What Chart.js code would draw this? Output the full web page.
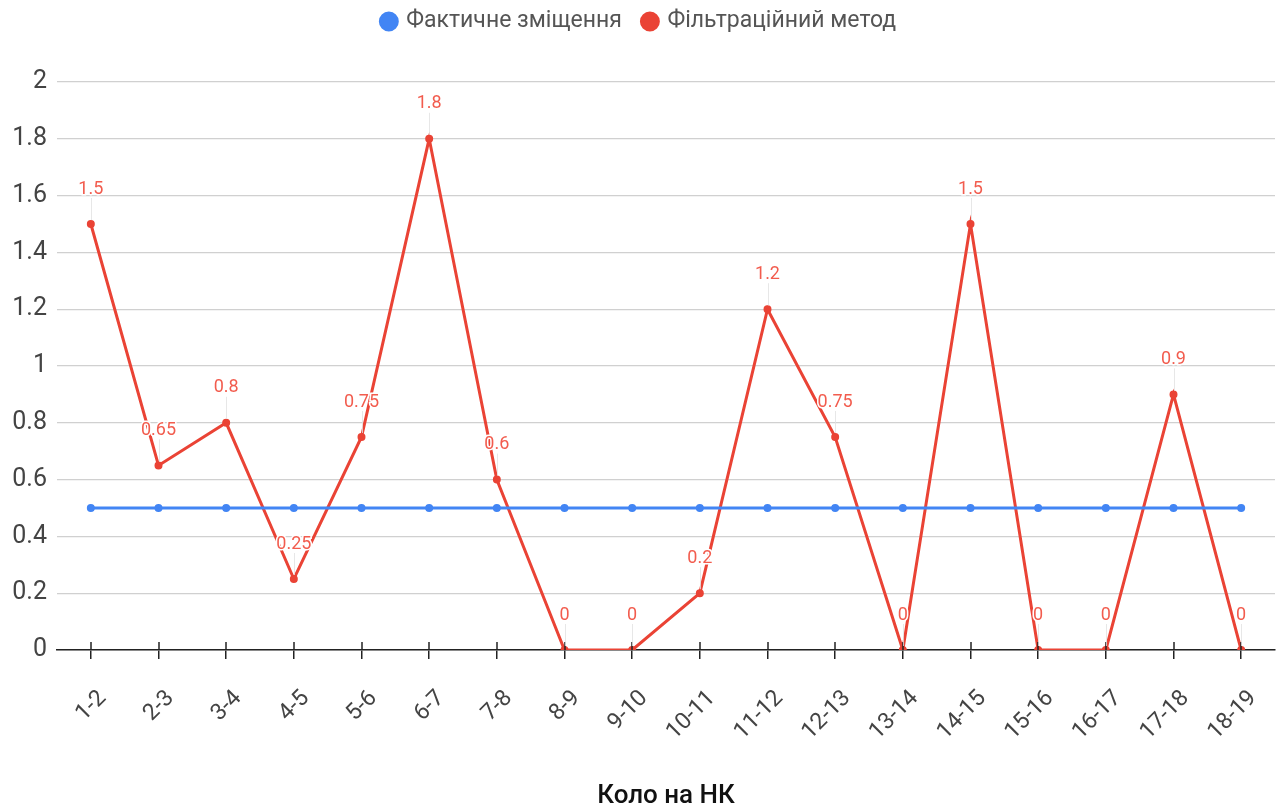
<!DOCTYPE html>
<html>
<head>
<meta charset="utf-8">
<script src="https://cdn.jsdelivr.net/npm/chart.js@4/dist/chart.umd.min.js"></script>
<style>
  html, body { margin: 0; padding: 0; background: #fff; }
  #wrap { width: 1281px; height: 812px; position: relative; }
</style>
</head>
<body>
<div id="wrap"><canvas id="c" width="1281" height="812"></canvas></div>
<script>
// Segments between rings
const categories = ['1-2','2-3','3-4','4-5','5-6','6-7','7-8','8-9','9-10','10-11','11-12','12-13','13-14','14-15','15-16','16-17','17-18','18-19'];
// Actual displacement (constant)
const actualShift = [0.5,0.5,0.5,0.5,0.5,0.5,0.5,0.5,0.5,0.5,0.5,0.5,0.5,0.5,0.5,0.5,0.5,0.5];
// Filtration method result
const filtrationMethod = [1.5,0.65,0.8,0.25,0.75,1.8,0.6,0,0,0.2,1.2,0.75,0,1.5,0,0,0.9,0];
// Y tick values that carry a label
const yLabelTicks = [0,0.2,0.4,0.6,0.8,1,1.2,1.4,1.6,1.8,2];

const BLUE = '#4285F4';
const RED = '#EA4335';

// Extra room between the legend and the plot
const legendGap = {
  id: 'legendGap',
  beforeInit(chart) {
    const origFit = chart.legend.fit;
    chart.legend.fit = function () {
      origFit.call(this);
      this.height += 39;
    };
  }
};

// Upper half of the category tick marks, crossing the zero line
const crossTicks = {
  id: 'crossTicks',
  afterDatasetsDraw(chart) {
    const ctx = chart.ctx;
    const xs = chart.scales.x;
    const y0 = chart.chartArea.bottom;
    ctx.save();
    ctx.strokeStyle = '#222';
    ctx.lineWidth = 1.5;
    categories.forEach((c, i) => {
      const x = Math.round(xs.getPixelForValue(i));
      ctx.beginPath();
      ctx.moveTo(x, y0 - 8);
      ctx.lineTo(x, y0);
      ctx.stroke();
    });
    ctx.restore();
  }
};

// Value labels with a thin leader line above each point of the red series
const valueLabels = {
  id: 'valueLabels',
  afterDatasetsDraw(chart) {
    const ctx = chart.ctx;
    const meta = chart.getDatasetMeta(1);
    const ds = chart.data.datasets[1];
    ctx.save();
    meta.data.forEach((pt, i) => {
      const x = pt.x, y = pt.y;
      const ly = y - 35;
      ctx.strokeStyle = 'rgba(225,225,225,0.8)';
      ctx.lineWidth = 1;
      ctx.beginPath();
      ctx.moveTo(Math.round(x) + 0.5, y - 4);
      ctx.lineTo(Math.round(x) + 0.5, ly + 9);
      ctx.stroke();
      ctx.font = '18px Roboto';
      ctx.fillStyle = '#F25C4E';
      ctx.textAlign = 'center';
      ctx.textBaseline = 'middle';
      ctx.lineWidth = 3;
      ctx.strokeStyle = '#ffffff';
      const t = String(ds.data[i]);
      ctx.strokeText(t, x, ly);
      ctx.fillText(t, x, ly);
    });
    ctx.restore();
  }
};

new Chart(document.getElementById('c'), {
  type: 'line',
  data: {
    labels: categories,
    datasets: [
      {
        label: 'Фактичне зміщення',
        data: actualShift,
        borderColor: BLUE,
        backgroundColor: BLUE,
        borderWidth: 3,
        pointRadius: 2.5,
        pointHoverRadius: 2.5,
        tension: 0
      },
      {
        label: 'Фільтраційний метод',
        data: filtrationMethod,
        borderColor: RED,
        backgroundColor: RED,
        borderWidth: 3,
        pointRadius: 2.5,
        pointHoverRadius: 2.5,
        tension: 0
      }
    ]
  },
  options: {
    responsive: false,
    animation: false,
    layout: { padding: { left: 4, right: 6, top: -12, bottom: 0 } },
    plugins: {
      tooltip: { enabled: false },
      legend: {
        position: 'top',
        labels: {
          usePointStyle: true,
          pointStyle: 'circle',
          boxWidth: 12,
          boxHeight: 12,
          padding: 22,
          color: '#555',
          font: { family: 'Roboto', size: 23 }
        }
      }
    },
    scales: {
      x: {
        offset: true,
        grid: {
          display: true,
          drawOnChartArea: false,
          drawTicks: true,
          tickLength: 9,
          color: '#222',
          lineWidth: 1.5
        },
        border: { display: true, color: '#222', width: 1.5 },
        ticks: {
          autoSkip: false,
          maxRotation: 45,
          minRotation: 45,
          color: '#444',
          padding: 26,
          labelOffset: 12,
          font: { family: 'Roboto', size: 23 }
        },
        title: {
          display: true,
          text: 'Коло на НК',
          color: '#111',
          font: { family: 'Roboto', size: 26, weight: '500' },
          padding: { top: 0, bottom: 0 }
        },
        afterFit(scale) {
          scale.height = 162;
          scale.paddingRight = 0;
          scale.paddingLeft = 0;
        }
      },
      y: {
        min: 0,
        max: 2,
        ticks: {
          stepSize: 0.1,
          color: '#444',
          padding: 10,
          font: { family: 'Roboto', size: 25 },
          callback(v) {
            const r = Math.round(v * 10) / 10;
            return yLabelTicks.some(t => Math.abs(t - r) < 1e-9) ? String(r) : '';
          }
        },
        grid: { color: '#d0d0d0', lineWidth: 1.2, drawTicks: false },
        border: { display: false },
        afterFit(scale) { scale.width = 53; }
      }
    }
  },
  plugins: [legendGap, crossTicks, valueLabels]
});
</script>
</body>
</html>
